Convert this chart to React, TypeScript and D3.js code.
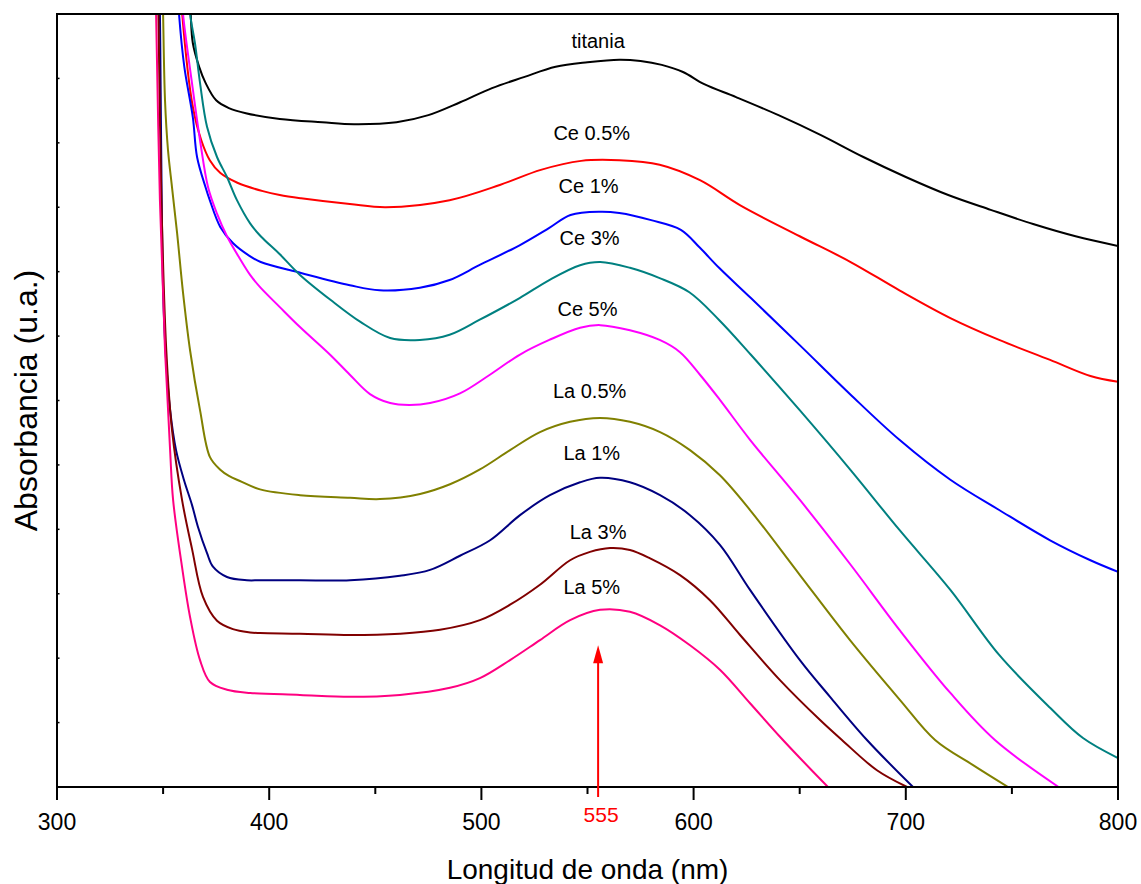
import React from "react";
import * as d3 from "d3";

type P = [number, number];

const titania: P[] = [[362.5,12.3],[363,12.0],[364,11.55],[367,11.18],[370,10.93],[375,10.66],[381,10.54],[389,10.46],[405,10.37],[425,10.32],[440,10.29],[460,10.32],[475,10.43],[490,10.63],[505,10.85],[520,11.02],[535,11.18],[550,11.25],[565,11.29],[575,11.27],[585,11.21],[595,11.10],[605,10.91],[620,10.71],[640,10.43],[660,10.12],[680,9.78],[700,9.47],[720,9.19],[740,8.96],[760,8.74],[780,8.55],[800,8.40]];
const ce05: P[] = [[358.5,12.3],[359,12.0],[364,10.56],[368,10.04],[372,9.73],[377,9.53],[385,9.38],[397,9.25],[405,9.19],[415,9.14],[438,9.05],[455,9.0],[485,9.11],[509,9.35],[528,9.58],[547,9.72],[565,9.73],[584,9.66],[603,9.42],[622,9.03],[650,8.55],[674,8.15],[697,7.71],[721,7.28],[744,6.94],[768,6.63],[787,6.38],[800,6.29]];
const ce1: P[] = [[357,12.3],[357.5,12.0],[360,11.18],[364,10.4],[366,9.78],[370,9.31],[372,9.11],[377,8.69],[383,8.44],[390,8.26],[396,8.15],[415,7.98],[438,7.79],[452,7.71],[471,7.75],[485,7.87],[499,8.1],[518,8.41],[532,8.68],[542,8.88],[556,8.93],[565,8.91],[580,8.8],[594,8.65],[603,8.37],[612,8.06],[627,7.59],[650,6.86],[674,6.09],[697,5.39],[721,4.77],[744,4.3],[768,3.83],[787,3.52],[800,3.34]];
const ce3: P[] = [[362.2,12.3],[362.7,12.0],[365,11.55],[367.4,10.93],[370.7,10.25],[375.4,9.78],[380.1,9.47],[384.8,9.11],[391,8.75],[396,8.55],[405,8.27],[414.5,7.95],[429,7.56],[443,7.22],[457,6.97],[471,6.94],[485,7.02],[499,7.25],[518,7.59],[532,7.87],[546.5,8.1],[556,8.15],[570,8.06],[584,7.9],[598,7.68],[612,7.25],[627,6.71],[650,5.85],[674,4.92],[697,3.99],[721,3.06],[744,2.05],[768,1.23],[783.5,0.76],[800,0.45]];
const ce5: P[] = [[359,12.3],[359.4,12.0],[363.6,10.93],[367.4,10.04],[371.2,9.31],[375.4,8.9],[380.1,8.55],[386.2,8.2],[391,7.95],[395.7,7.76],[405,7.45],[414.5,7.14],[428.7,6.71],[438,6.4],[447.5,6.1],[457,5.96],[466,5.93],[475.8,5.96],[489.9,6.11],[504,6.4],[518,6.71],[532,6.94],[546.5,7.13],[556,7.17],[570,7.09],[584,6.94],[593.6,6.75],[603,6.4],[612.4,6.01],[626.6,5.39],[650,4.46],[674,3.45],[697,2.44],[721,1.46],[742,0.73],[772,0]];
const la05: P[] = [[349.8,12.3],[350,12.0],[350.9,10.66],[352.3,9.89],[354.2,9.31],[356.6,8.6],[359.4,7.67],[362.7,6.78],[367.4,5.85],[372.1,5.12],[376.8,4.93],[381,4.83],[386.2,4.75],[395.7,4.62],[414.5,4.53],[438.1,4.49],[452.2,4.47],[471.1,4.55],[485.2,4.7],[499.3,4.93],[513.5,5.23],[527.6,5.51],[541.8,5.67],[555.9,5.73],[570,5.67],[584.2,5.51],[598.3,5.23],[612.4,4.84],[626.6,4.3],[650.1,3.29],[673.7,2.28],[697.3,1.35],[713.8,0.73],[731.7,0.34],[748.2,0]];
const la1: P[] = [[348.3,12.3],[348.5,12.0],[350,7.71],[351.4,6.63],[353.3,5.85],[356.1,5.23],[359.8,4.77],[363.6,4.38],[366.4,4.04],[370.7,3.63],[373.5,3.42],[380.1,3.26],[389.5,3.21],[395.7,3.21],[414.5,3.21],[438.1,3.21],[461.6,3.28],[475.8,3.37],[489.9,3.59],[504.1,3.83],[518.2,4.22],[532.3,4.53],[546.5,4.73],[555.9,4.8],[570,4.73],[584.2,4.53],[598.3,4.22],[612.4,3.76],[626.6,3.06],[650.1,1.97],[664.3,1.4],[681.7,0.73],[703.4,0]];
const la3: P[] = [[347.6,12.3],[347.8,12.0],[349.2,9.11],[351.5,6.78],[354.2,5.54],[358.9,4.46],[363.6,3.7],[368.8,2.95],[375.4,2.58],[382.9,2.45],[391,2.4],[395.7,2.39],[414.5,2.38],[438.1,2.36],[461.6,2.38],[480.5,2.44],[499.3,2.59],[513.5,2.83],[527.6,3.14],[541.8,3.52],[551.2,3.65],[560.6,3.71],[570,3.68],[579.5,3.55],[593.6,3.29],[607.7,2.9],[621.9,2.36],[640.7,1.66],[659.6,1.04],[669.9,0.73],[686.4,0.26],[700.6,0]];
const la5: P[] = [[346.5,12.3],[346.7,12.0],[348.5,9.11],[350.9,6.78],[353.3,5.23],[354.7,4.46],[358.9,3.42],[362.7,2.64],[367.4,1.97],[372.1,1.63],[380.1,1.51],[391,1.46],[414.5,1.43],[438.1,1.4],[461.6,1.43],[485.2,1.54],[499.3,1.69],[513.5,1.97],[527.6,2.28],[541.8,2.59],[555.9,2.75],[570,2.72],[584.2,2.51],[598.3,2.2],[612.4,1.82],[626.6,1.3],[640.7,0.78],[650.1,0.45],[663.3,0]];

const seriesNames = ["titania","Ce 0.5%","Ce 1%","Ce 3%","Ce 5%","La 0.5%","La 1%","La 3%","La 5%"];
const seriesData = [titania, ce05, ce1, ce3, ce5, la05, la1, la3, la5];
const seriesColors = ["#000000","#FF0000","#0000FF","#008080","#FF00FF","#808000","#000080","#800000","#FF0080"];
// label anchor (nm, absorbance)
const labelNm = [555, 552, 550.5, 551, 550, 551, 552, 555, 552];
const labelVal = [11.47, 10.04, 9.22, 8.41, 7.31, 6.04, 5.07, 3.85, 3.0];

const xTicks = [300, 400, 500, 600, 700, 800];
const xMinor = [350, 450, 550, 650, 750];
const yTicks = [1,2,3,4,5,6,7,8,9,10,11];
const arrowNm = 555;
const arrowTip = 2.2;

const W = 1141, H = 884;
const L = 57, R = 1118, T = 14, B = 787;

export default function App() {
  const x = d3.scaleLinear().domain([300, 800]).range([L, R]);
  const y = d3.scaleLinear().domain([0, 12]).range([B, T]);
  const line = d3.line<P>().x(d => x(d[0])).y(d => y(d[1])).curve(d3.curveCatmullRom.alpha(0.5));
  const font = "'Liberation Sans', Arial, sans-serif";
  const ax = x(arrowNm);
  const tipY = y(arrowTip);
  return (
    <svg width={W} height={H} style={{ position: "absolute", left: 0, top: 0, background: "#fff" }} fontFamily={font}>
      <defs>
        <clipPath id="plot"><rect x={L} y={T} width={R - L} height={B - T} /></clipPath>
      </defs>
      <rect x={0} y={0} width={W} height={H} fill="#fff" />
      <g clipPath="url(#plot)">
        {seriesData.map((d, i) => (
          <path key={i} d={line(d) || ""} fill="none" stroke={seriesColors[i]} strokeWidth={2} strokeLinejoin="round" />
        ))}
      </g>
      {seriesNames.map((n, i) => (
        <text key={n} x={x(labelNm[i])} y={y(labelVal[i])} textAnchor="middle" fontSize={20} fill="#000">{n}</text>
      ))}
      <rect x={L} y={T} width={R - L} height={B - T} fill="none" stroke="#000" strokeWidth={2} />
      {xTicks.map(t => (
        <g key={t}>
          <line x1={x(t)} x2={x(t)} y1={B} y2={B + 13} stroke="#000" strokeWidth={2} />
          <text x={x(t)} y={830} textAnchor="middle" fontSize={23}>{t}</text>
        </g>
      ))}
      {xMinor.map(t => (
        <line key={t} x1={x(t)} x2={x(t)} y1={B} y2={B + 7} stroke="#000" strokeWidth={2} />
      ))}
      {yTicks.map(t => (
        <line key={t} x1={L} x2={L + 2.5} y1={y(t)} y2={y(t)} stroke="#000" strokeWidth={1.5} />
      ))}
      <line x1={ax} x2={ax} y1={B + 10} y2={tipY + 16} stroke="#FF0000" strokeWidth={2} />
      <path d={`M${ax},${tipY} L${ax - 5},${tipY + 18} L${ax + 5},${tipY + 18} Z`} fill="#FF0000" />
      <text x={ax + 3} y={822} textAnchor="middle" fontSize={21} fill="#FF0000">{arrowNm}</text>
      <text x={(L + R) / 2} y={879} textAnchor="middle" fontSize={28}>Longitud de onda (nm)</text>
      <text transform={`translate(37,${(T + B) / 2}) rotate(-90)`} textAnchor="middle" fontSize={32}>Absorbancia (u.a.)</text>
    </svg>
  );
}
